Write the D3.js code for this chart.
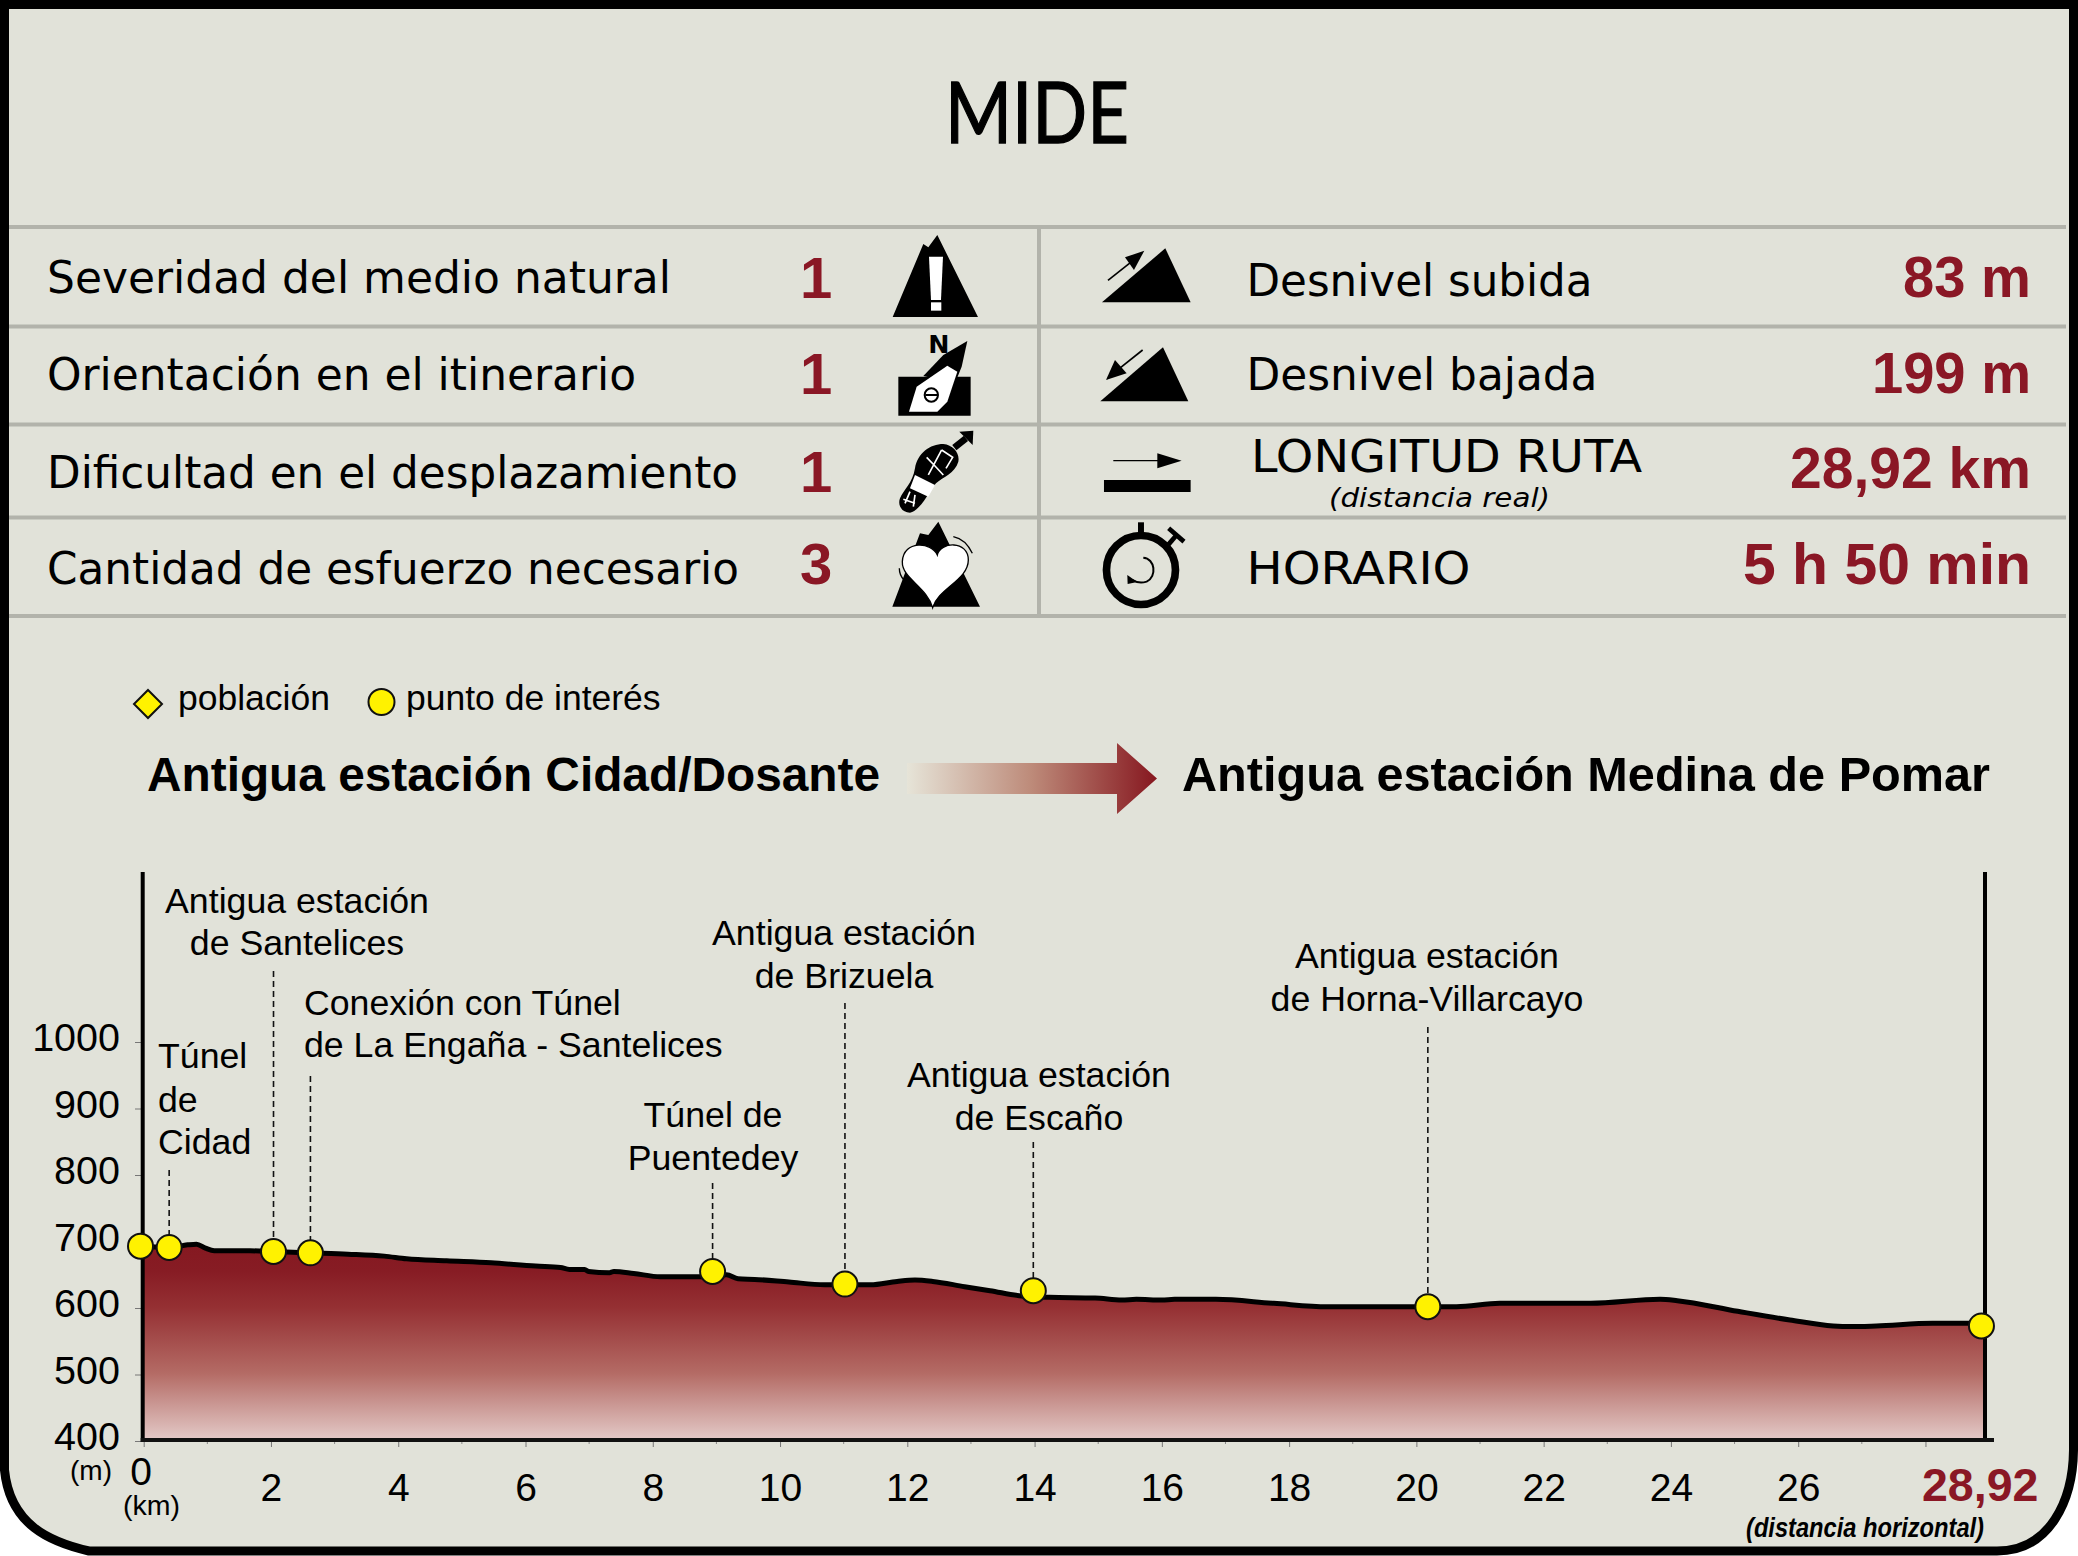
<!DOCTYPE html>
<html>
<head>
<meta charset="utf-8">
<script src="https://cdn.jsdelivr.net/npm/d3@7"></script>
<style>
html,body{margin:0;padding:0;background:#fff;}
svg{display:block;}
</style>
</head>
<body>
<svg id="chart" width="2078" height="1556"></svg>
<script>
// profile
var profileKm = [0,0.41,0.69,0.83,0.97,1.11,1.67,2.04,2.62,3.21,3.78,4.13,4.76,5.46,6.16,6.55,6.69,6.93,6.99,7.32,7.39,7.70,8.12,8.74,9.16,9.34,9.6,10.14,10.7,11.02,11.42,11.84,12.12,12.4,12.9,13.3,13.8,14.23,14.95,15.37,15.6,16,16.2,16.85,17.76,18.6,19.8,20.63,21.31,22.74,23.83,24.1,25.05,25.87,26.55,26.82,27.23,28.11,28.92];
var profileElev = [693,691,695,696,690,686,686,685,683,681,678,674,671,668,663,661,658,658,655,653,655,652,647,647,650,644,643,639,635,635,635,640,642,640,632,626,618,616,615,612,613,612,613,613,607,602,602,602,607,607,613,611,595,582,573,572,573,577,577];

var stopKm = [-0.05,0.4,2.04,2.62,8.94,11.02,13.98,20.18,28.88];
var stopElev = [693,691,685,683,655,636,626,602,573];

var elevTicks = [400,500,600,700,800,900,1000];
var kmLabelled = [2,4,6,8,10,12,14,16,18,20,22,24,26];
var kmMajor = [0,2,4,6,8,10,12,14,16,18,20,22,24,26,28];
var kmMinor = [1,3,5,7,9,11,13,15,17,19,21,23,25,27];

var mideLeft = ["Severidad del medio natural","Orientación en el itinerario","Dificultad en el desplazamiento","Cantidad de esfuerzo necesario"];
var mideScores = ["1","1","1","3"];
var mideRight = ["Desnivel subida","Desnivel bajada","LONGITUD RUTA","HORARIO"];
var mideValues = ["83 m","199 m","28,92 km","5 h 50 min"];

var labelCidad = ["Túnel","de","Cidad"];
var labelSantelices = ["Antigua estación","de Santelices"];
var labelConexion = ["Conexión con Túnel","de La Engaña - Santelices"];
var labelPuentedey = ["Túnel de","Puentedey"];
var labelBrizuela = ["Antigua estación","de Brizuela"];
var labelEscano = ["Antigua estación","de Escaño"];
var labelHorna = ["Antigua estación","de Horna-Villarcayo"];

var RED = "#8a1725", BG = "#e1e2d9", GREY = "#b2b3ab", YEL = "#fff200";
var SANS = "'Liberation Sans',Arial,sans-serif", WIDE = "'DejaVu Sans',Verdana,sans-serif";

var svg = d3.select("#chart");
var defs = svg.append("defs");

var x = d3.scaleLinear().domain([0,28.92]).range([143.7,1984]);
var y = d3.scaleLinear().domain([400,1000]).range([1441,1042]);

var txt = function(parent,s,px,py,size,opt){
    opt = opt || {};
    var t = parent.append("text").attr("x",px).attr("y",py)
        .attr("font-family",opt.family||SANS).attr("font-size",size)
        .attr("fill",opt.fill||"#000").text(s);
    if(opt.anchor) t.attr("text-anchor",opt.anchor);
    if(opt.weight) t.attr("font-weight",opt.weight);
    if(opt.style) t.attr("font-style",opt.style);
    if(opt.len) t.attr("textLength",opt.len).attr("lengthAdjust","spacingAndGlyphs");
    return t;
};

// frame
svg.append("path")
    .attr("d","M4.5,4.5H2073.5V1450C2073,1500 2050,1551 1997,1551H89C50,1542 10,1525 4.5,1470Z")
    .attr("fill",BG).attr("stroke","#000").attr("stroke-width",9);

// title
txt(svg,"MIDE",945,143,86,{family:"Lato,sans-serif",len:184}).attr("stroke","#000").attr("stroke-width",1.4);

// table
var table = svg.append("g");
table.selectAll("line.h").data([227,326.5,424.5,517.5,616]).enter().append("line")
    .attr("x1",9).attr("x2",2066).attr("y1",function(d){return d;}).attr("y2",function(d){return d;})
    .attr("stroke",GREY).attr("stroke-width",4);
table.append("line").attr("x1",1039).attr("x2",1039).attr("y1",225).attr("y2",618)
    .attr("stroke",GREY).attr("stroke-width",4);

var leftBase = [293,390,488,584], leftLen = [624,589,691,692];
var scoreBase = [298,394,492,584];
mideLeft.forEach(function(s,i){
    txt(table,s,47,leftBase[i],45,{family:WIDE,len:leftLen[i]});
    txt(table,mideScores[i],800,scoreBase[i],58,{weight:"bold",fill:RED});
});
var rightBase = [296,390,472,584], rightX = [1246.5,1246.5,1251,1246.5], rightLen = [346,351,391,224];
var valueBase = [297,393,488,584], valueLen = [128,159,241,288];
mideRight.forEach(function(s,i){
    txt(table,s,rightX[i],rightBase[i],45,{family:WIDE,len:rightLen[i]});
    txt(table,mideValues[i],2031-valueLen[i],valueBase[i],58,{weight:"bold",fill:RED,len:valueLen[i]});
});
txt(table,"(distancia real)",1329,506.5,26,{family:WIDE,style:"italic",len:221});

// icons, drawn at 3x
var icons = table.append("g").attr("transform","translate(860,220) scale(0.3333)");
var blk = function(d){ return icons.append("path").attr("d",d).attr("fill","#000"); };
var wht = function(d){ return icons.append("path").attr("d",d).attr("fill","#fff"); };
var lineW = function(d,w,c){ return icons.append("path").attr("d",d).attr("fill","none").attr("stroke",c||"#000").attr("stroke-width",w); };
// warning
blk("M98,291L190,72L205,82L232,45L354,291Z");
wht("M207,110H249L243,240H213Z");
wht("M213,247H244V272H213Z");
// compass
blk("M115,470H332V587H115Z");
blk("M322,363L305,440L285,490L190,468L250,405Z");
wht("M147,575L170,500L262,437L292,455L262,545L232,575Z");
icons.append("circle").attr("cx",214).attr("cy",525).attr("r",20).attr("fill","none").attr("stroke","#000").attr("stroke-width",6);
lineW("M196,525H232",6);
txt(icons,"N",205,398,76,{family:WIDE,weight:"bold"});
// boot
blk("M150,878C125,878 112,855 120,835C130,810 158,790 165,745C172,700 210,672 250,672C280,675 300,700 295,725C285,760 250,770 228,790C205,815 185,870 150,878Z");
wht("M165,765L225,795L205,830L150,805Z");
lineW("M200,712L225,738L250,765M245,690L205,765M245,690L278,712L258,745M130,838L165,850M150,815L135,850M165,825L160,860",5,"#fff");
lineW("M283,683L318,655",20);
blk("M298,635L340,632L338,675Z");
// heart
blk("M97,1160L180,940L205,945L235,905L360,1160Z");
icons.append("path").attr("d","M232,1005C215,965 130,960 127,1025C125,1075 200,1100 218,1163C235,1105 325,1080 325,1020C325,960 240,965 232,1005Z")
    .attr("fill","#fff").attr("stroke","#000").attr("stroke-width",4);
lineW("M280,950C305,955 325,975 337,1000",4);
lineW("M118,1045C118,1060 122,1070 132,1080",4);
// up
blk("M726,247L916,85L992,247Z");
lineW("M744,181L815,125",5);
blk("M853,92L795,112L822,150Z");
// down
blk("M721,544L909,382L985,544Z");
lineW("M848,390L775,448",5);
blk("M738,480L800,460L765,420Z");
// length
lineW("M760,722H895",4);
blk("M892,700L965,722L892,745Z");
blk("M732,780H992V816H732Z");
// watch
icons.append("circle").attr("cx",843).attr("cy",1050).attr("r",103.5).attr("fill","none").attr("stroke","#000").attr("stroke-width",23);
blk("M834,907H852V945H834Z");
lineW("M920,980L950,945",14);
lineW("M926,925L972,965",14);
lineW("M850,1013C885,1015 892,1070 860,1085C845,1090 830,1088 818,1080",6);
blk("M802,1065L803,1092L832,1086Z");

// legend
var DIAMOND = "M148,690L162,704L148,718L134,704Z";
svg.append("path").attr("d",DIAMOND).attr("fill",YEL).attr("stroke","#111").attr("stroke-width",2);
txt(svg,"población",178,710,35.5);
svg.append("circle").attr("cx",381.5).attr("cy",702).attr("r",13).attr("fill",YEL).attr("stroke","#111").attr("stroke-width",2);
txt(svg,"punto de interés",406,710,35.5);

// route heading
txt(svg,"Antigua estación Cidad/Dosante",147,791,48,{weight:"bold",len:733});
txt(svg,"Antigua estación Medina de Pomar",1182,791,48.5,{weight:"bold",len:808});
var arrowGrad = defs.append("linearGradient").attr("id","arrowGrad")
    .attr("gradientUnits","userSpaceOnUse").attr("x1",907).attr("x2",1157).attr("y1",0).attr("y2",0);
arrowGrad.append("stop").attr("offset",0).attr("stop-color","#e6e4d8");
arrowGrad.append("stop").attr("offset",0.5).attr("stop-color","#bd8a79");
arrowGrad.append("stop").attr("offset",1).attr("stop-color","#86171f");
svg.append("path").attr("d","M907,763H1117V743L1157,778.5L1117,814V794H907Z").attr("fill","url(#arrowGrad)");

// profile
var profile = profileKm.map(function(k,i){ return {km:k,elev:profileElev[i]}; });
var fillGrad = defs.append("linearGradient").attr("id","fillGrad")
    .attr("gradientUnits","userSpaceOnUse").attr("x1",0).attr("x2",0).attr("y1",y(700)).attr("y2",y(400));
[[0,"#851820"],[0.15,"#871c24"],[0.33,"#953033"],[0.66,"#b46b65"],[1,"#e4cbc9"]].forEach(function(s){
    fillGrad.append("stop").attr("offset",s[0]).attr("stop-color",s[1]);
});
var area = d3.area().x(function(d){return x(d.km);}).y0(y(400)).y1(function(d){return y(d.elev);}).curve(d3.curveMonotoneX);
var line = d3.line().x(function(d){return x(d.km);}).y(function(d){return y(d.elev);}).curve(d3.curveMonotoneX);
svg.append("path").datum(profile).attr("d",area).attr("fill","url(#fillGrad)");

// axes
var yAxis = d3.axisLeft(y).tickValues(elevTicks).tickSize(7).tickPadding(15).tickFormat(d3.format("d"));
var yG = svg.append("g").attr("transform","translate(142,0)").call(yAxis);
yG.select(".domain").remove();
yG.selectAll("line").attr("stroke","#777").attr("stroke-width",1);
yG.selectAll("text").attr("font-family",SANS).attr("font-size",39.5).attr("fill","#000").attr("dy",8.5);

var xAxis = d3.axisBottom(x).tickValues(kmMajor).tickSize(6).tickPadding(25)
    .tickFormat(function(d){ return kmLabelled.indexOf(d)>=0 ? d : ""; });
var xG = svg.append("g").attr("transform","translate(0,1441)").call(xAxis);
xG.select(".domain").remove();
xG.selectAll("line").attr("stroke","#777").attr("stroke-width",1);
xG.selectAll("text").attr("font-family",SANS).attr("font-size",39).attr("fill","#000").attr("dy",0).attr("y",60);

svg.append("g").selectAll("line").data(kmMinor).enter().append("line")
    .attr("x1",function(d){return x(d);}).attr("x2",function(d){return x(d);})
    .attr("y1",1441).attr("y2",1444).attr("stroke","#888");

svg.append("line").attr("x1",x(0)-1).attr("x2",x(0)-1).attr("y1",872).attr("y2",1442).attr("stroke","#000").attr("stroke-width",4);
svg.append("line").attr("x1",x(28.92)+1).attr("x2",x(28.92)+1).attr("y1",872).attr("y2",1442).attr("stroke","#000").attr("stroke-width",4);
svg.append("line").attr("x1",x(0)-3).attr("x2",1994).attr("y1",1440).attr("y2",1440).attr("stroke","#111").attr("stroke-width",4);

svg.append("path").datum(profile).attr("d",line).attr("fill","none").attr("stroke","#000").attr("stroke-width",5).attr("stroke-linejoin","round");

txt(svg,"(m)",70,1480,28);
txt(svg,"0",141,1485,39,{anchor:"middle"});
txt(svg,"(km)",123,1515,28.5);
txt(svg,"28,92",1922,1501,46.5,{weight:"bold",fill:RED});
txt(svg,"(distancia horizontal)",1746,1537,28,{weight:"bold",style:"italic",len:238});

// stop leaders, markers and names
var dashTop = [null,1170,971,1076,1183,1003,1142,1027,null];
stopKm.forEach(function(k,i){
    if(dashTop[i]===null) return;
    svg.append("line").attr("x1",x(k)).attr("x2",x(k)).attr("y1",dashTop[i]).attr("y2",y(stopElev[i])-12)
        .attr("stroke","#111").attr("stroke-width",1.6).attr("stroke-dasharray","6 4");
});
svg.append("g").selectAll("circle").data(stopKm).enter().append("circle")
    .attr("cx",function(d){return x(d);})
    .attr("cy",function(d,i){return y(stopElev[i]);})
    .attr("r",12.5).attr("fill",YEL).attr("stroke","#111").attr("stroke-width",2);

var addLabel = function(lines,px,bases,anchor){
    lines.forEach(function(s,i){ txt(svg,s,px,bases[i],35.7,{anchor:anchor}); });
};
addLabel(labelCidad,158,[1068,1112,1154],"start");
addLabel(labelSantelices,297,[913,955],"middle");
addLabel(labelConexion,304,[1015,1057],"start");
addLabel(labelPuentedey,713,[1127,1170],"middle");
addLabel(labelBrizuela,844,[945,988],"middle");
addLabel(labelEscano,1039,[1087,1130],"middle");
addLabel(labelHorna,1427,[968,1011],"middle");
</script>
</body>
</html>
